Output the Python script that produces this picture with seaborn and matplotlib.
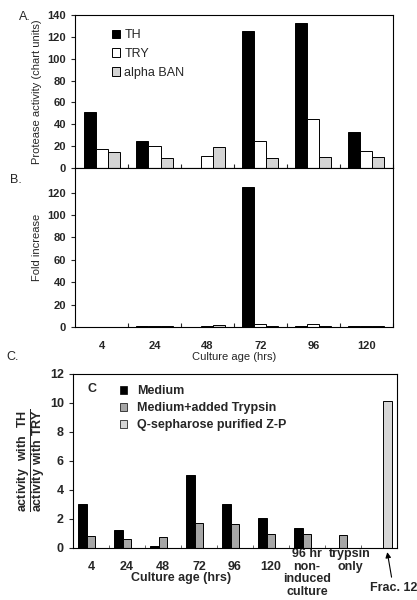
import numpy as np
import pandas as pd
import matplotlib
matplotlib.use("Agg")
import matplotlib.pyplot as plt
import matplotlib.transforms as mtrans
import seaborn as sns

# ---- data ----
ages = ["4", "24", "48", "72", "96", "120"]
series_ab = ["TH", "TRY", "alpha BAN"]

# Panel A: protease activity (chart units)
act_th = [51, 25, 0, 125, 133, 33]
act_try = [17, 20, 11, 25, 45, 16]
act_ban = [15, 9, 19, 9, 10, 10]

# Panel B: fold increase
fold_th = [0, 0.5, 0, 125, 1.0, 0.6]
fold_try = [0, 1.2, 0.6, 2.5, 2.3, 0.9]
fold_ban = [0, 0.6, 2.1, 0.6, 1.1, 1.1]

# Panel C: activity ratio TH / TRY
cats_c = ["4", "24", "48", "72", "96", "120", "96 hr", "trypsin only", "Frac. 12"]
tick_labels_c = ["\n4", "\n24", "\n48", "\n72", "\n96", "\n120",
                 "96 hr\nnon-\ninduced\nculture", "trypsin\nonly", ""]
series_c = ["Medium", "Medium+added Trypsin", "Q-sepharose purified Z-P"]
ratio_medium = [3.0, 1.25, 0.1, 5.0, 3.03, 2.05, 1.36, np.nan, np.nan]
ratio_trypsin = [0.83, 0.62, 0.76, 1.7, 1.63, 0.94, 0.94, 0.85, np.nan]
ratio_qseph = [np.nan, np.nan, np.nan, np.nan, np.nan, np.nan, np.nan, np.nan, 10.1]

# ---- long tables for seaborn ----
def long_table(cats, names, cols):
    rows = []
    for name, vals in zip(names, cols):
        for c, v in zip(cats, vals):
            if not np.isnan(v):
                rows.append({"cat": c, "series": name, "value": v})
    return pd.DataFrame(rows)

df_a = long_table(ages, series_ab, [act_th, act_try, act_ban])
df_b = long_table(ages, series_ab, [fold_th, fold_try, fold_ban])
df_c = long_table(cats_c, series_c, [ratio_medium, ratio_trypsin, ratio_qseph])

sns.set_style("ticks")
plt.rcParams["font.family"] = ["Liberation Sans", "DejaVu Sans"]
plt.rcParams["mathtext.fontset"] = "custom"
plt.rcParams["mathtext.rm"] = "Liberation Sans"
plt.rcParams["mathtext.bf"] = "Liberation Sans:bold"

pal_ab = ["black", "white", "#d4d4d4"]
pal_c = ["black", "#a6a6a6", "#d6d6d6"]

fig = plt.figure(figsize=(4.17, 6.0), dpi=100)
ax_a = fig.add_axes([0.180, 0.720, 0.762, 0.255])
ax_b = fig.add_axes([0.180, 0.455, 0.762, 0.265])
ax_c = fig.add_axes([0.175, 0.087, 0.777, 0.290])

for ax, df in [(ax_a, df_a), (ax_b, df_b)]:
    sns.barplot(data=df, x="cat", y="value", hue="series", order=ages,
                hue_order=series_ab, palette=pal_ab, edgecolor="black",
                linewidth=0.7, width=0.68, ax=ax)
    ax.set_xlim(-0.5, len(ages) - 0.5)
    ax.set_xticks(np.arange(len(ages)) + 0.5, minor=True)
    ax.tick_params(axis="x", which="minor", direction="in", length=3, width=0.8)
    ax.tick_params(axis="x", which="major", length=0)
    ax.tick_params(axis="y", length=3, width=0.8, labelsize=8)
    for s in ax.spines.values():
        s.set_linewidth(0.8)
        s.set_color("black")

# Panel A
ax_a.set_ylim(0, 140)
ax_a.set_yticks(range(0, 141, 20))
for lbl in ax_a.get_yticklabels():
    lbl.set_fontweight("bold")
ax_a.set_xticklabels([])
ax_a.set_xlabel("")
ax_a.set_ylabel("Protease activity (chart units)", fontsize=8)
ax_a.legend(loc="upper left", bbox_to_anchor=(0.08, 0.98), frameon=False,
            fontsize=9, handlelength=0.7, handleheight=0.7,
            handletextpad=0.3, labelspacing=0.55)

# Panel B
ax_b.set_ylim(0, 142)
ax_b.set_yticks(range(0, 121, 20))
for lbl in ax_b.get_yticklabels():
    lbl.set_fontweight("bold")
ax_b.set_xticks(range(len(ages)))
ax_b.set_xticklabels(ages, fontsize=8, fontweight="bold")
ax_b.tick_params(axis="x", which="major", pad=10)
ax_b.set_xlabel("Culture age (hrs)", fontsize=8, labelpad=1)
ax_b.set_ylabel("Fold increase", fontsize=8)
ax_b.get_legend().remove()

# Panel C
sns.barplot(data=df_c, x="cat", y="value", hue="series", order=cats_c,
            hue_order=series_c, palette=pal_c, edgecolor="black",
            linewidth=0.7, width=0.7, ax=ax_c)
ax_c.set_xlim(-0.5, len(cats_c) - 0.5)
ax_c.set_ylim(0, 12)
ax_c.set_yticks(range(0, 13, 2))
ax_c.set_yticklabels([str(v) for v in range(0, 13, 2)], fontsize=9, fontweight="bold")
ax_c.set_xticks(range(len(cats_c)))
ax_c.set_xticklabels(tick_labels_c, fontsize=9, fontweight="bold", va="top",
                     linespacing=1.08)
ax_c.set_xticks(np.arange(len(cats_c)) + 0.5, minor=True)
ax_c.tick_params(axis="x", which="minor", direction="in", length=2, width=0.5)
ax_c.tick_params(axis="x", which="major", length=0, pad=0)
ax_c.tick_params(axis="y", length=3, width=0.8)
# nudge the "trypsin only" label right a little, as in the original
lbl_tr = ax_c.get_xticklabels()[7]
lbl_tr.set_transform(lbl_tr.get_transform() +
                     mtrans.ScaledTranslation(0.07, 0, fig.dpi_scale_trans))
for s in ax_c.spines.values():
    s.set_linewidth(0.8)
    s.set_color("black")
ax_c.set_xlabel("")
ax_c.text(2.5, -0.175, "Culture age (hrs)", transform=ax_c.get_xaxis_transform(),
          ha="center", va="center", fontsize=9, fontweight="bold")
ax_c.set_ylabel(r"$\dfrac{\mathbf{activity\ \ with\ \ TH}}{\mathbf{activity\ with\ TRY}}$",
                fontsize=9, labelpad=2)
leg_c = ax_c.legend(loc="upper left", bbox_to_anchor=(0.11, 1.0), frameon=False,
                    prop={"size": 9, "weight": "bold"}, handlelength=0.6,
                    handleheight=0.6, handletextpad=0.8, labelspacing=0.4)
for h in leg_c.legend_handles:
    h.set_linewidth(0.5)
ax_c.text(0.045, 0.91, "C", transform=ax_c.transAxes, fontsize=9,
          fontweight="bold", ha="left", va="center")
ax_c.annotate("Frac. 12", xy=(8.23, -0.025), xycoords=("data", "axes fraction"),
              xytext=(8.4, -0.23), textcoords=("data", "axes fraction"),
              ha="center", va="center", fontsize=9, fontweight="bold",
              arrowprops=dict(arrowstyle="-|>", color="black", lw=0.8,
                              mutation_scale=8, shrinkA=1, shrinkB=0))

# panel letters
fig.text(0.045, 0.972, "A.", fontsize=9, ha="left", va="center")
fig.text(0.025, 0.700, "B.", fontsize=9, ha="left", va="center")
fig.text(0.015, 0.405, "C.", fontsize=9, ha="left", va="center")

fig.savefig("out.png", dpi=100)
